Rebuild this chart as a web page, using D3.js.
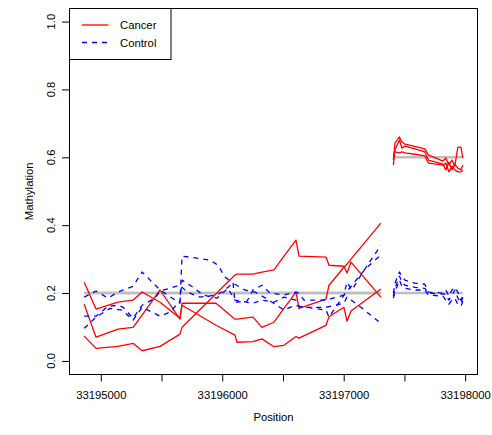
<!DOCTYPE html>
<html>
<head>
<meta charset="utf-8">
<script src="https://cdn.jsdelivr.net/npm/d3@7"></script>
<style>
  html, body { margin: 0; padding: 0; background: #fff; }
  svg { display: block; font-family: "Liberation Sans", Arial, Helvetica, sans-serif; }
</style>
</head>
<body>
<svg id="chart" width="492" height="435"></svg>
<script>
// ---- Region 1: CpG positions and per-sample methylation ----
const leftCancerPos = [33194863, 33194961, 33195142, 33195266, 33195340, 33195488, 33195652, 33195669,
  33195949, 33196105, 33196121, 33196253, 33196327, 33196426, 33196508, 33196607, 33196632, 33196854,
  33196879, 33197002, 33197027, 33197060, 33197306];
const cancerL1 = [.073, .037, .043, .052, .030, .043, .079, .099, .198, .253, .256, .256, .262, .268, .309,
  .356, .309, .306, .282, .279, .259, .291, .188];
const cancerL2 = [.167, .070, .094, .099, .135, .209, .123, .170, .170, .123, .123, .129, .099, .114, .155,
  .203, .155, .182, .223, .276, .285, .300, .406];
const cancerL3 = [.232, .153, .173, .179, .203, .173, .126, .164, .105, .076, .055, .057, .065, .042, .046,
  .072, .067, .105, .130, .158, .117, .147, .212];

const controlL1Pos = [33194863, 33194961, 33195060, 33195142, 33195266, 33195340, 33195488, 33195652,
  33195669, 33195842, 33195899, 33195965, 33196023, 33196089, 33196105, 33196204, 33196253, 33196327,
  33196393, 33196508, 33196607, 33196632, 33196673, 33196854, 33197002, 33197027, 33197068, 33197142, 33197306];
const controlL1 = [.188, .206, .185, .203, .220, .262, .209, .170, .309, .300, .297, .282, .247, .229, .173,
  .176, .209, .223, .200, .194, .203, .200, .179, .179, .194, .232, .209, .253, .341];

const controlL2Pos = [33194863, 33194961, 33195060, 33195142, 33195184, 33195266, 33195340, 33195447,
  33195488, 33195652, 33195710, 33195817, 33195949, 33195998, 33196089, 33196187, 33196270, 33196385,
  33196508, 33196599, 33196656, 33196854, 33197002, 33197027, 33197142, 33197306];
const controlL2 = [.132, .132, .161, .164, .158, .126, .164, .185, .206, .223, .203, .188, .194, .203, .229,
  .209, .203, .179, .150, .164, .158, .158, .170, .188, .158, .111];

const controlL3Pos = [33194863, 33194961, 33195077, 33195175, 33195266, 33195340, 33195488, 33195570,
  33195652, 33195669, 33195760, 33195842, 33195957, 33196047, 33196105, 33196253, 33196327, 33196426,
  33196508, 33196607, 33196632, 33196854, 33196879, 33197002, 33197068, 33197183, 33197306];
const controlL3 = [.096, .129, .155, .150, .120, .158, .132, .144, .176, .238, .217, .194, .185, .214, .179,
  .170, .179, .173, .188, .179, .161, .150, .129, .194, .223, .273, .312];

// ---- Region 2 ----
const rightPos = [33197409, 33197422, 33197459, 33197479, 33197504, 33197586, 33197668, 33197697,
  33197817, 33197841, 33197866, 33197891, 33197915, 33197940, 33197965, 33197981];
const cancerR1 = [.592, .642, .660, .645, .639, .632, .625, .607, .589, .598, .577, .592, .574, .630, .630, .598];
const cancerR2 = [.577, .622, .651, .627, .633, .625, .616, .592, .580, .563, .586, .563, .580, .568, .563, .577];
const cancerR3 = [.607, .616, .613, .616, .613, .609, .604, .583, .577, .583, .557, .574, .563, .557, .557, .563];
const controlR1 = [.200, .229, .262, .250, .238, .229, .226, .203, .200, .209, .191, .209, .217, .203, .179, .191];
const controlR2 = [.191, .214, .250, .232, .223, .217, .214, .200, .197, .197, .179, .194, .209, .185, .170, .188];
const controlR3 = [.185, .203, .238, .220, .214, .209, .209, .194, .191, .179, .167, .179, .185, .167, .161, .176];

// group means per region (grey reference segments)
const regionCancerMean = [0.2, 0.6];
const regionControlMean = [0.2, 0.2];

// axes
const xTicks = [33195000, 33195500, 33196000, 33196500, 33197000, 33197500, 33198000];
const yTicks = [0, 0.2, 0.4, 0.6, 0.8, 1.0];
const yLim = [0, 1];
const legendLabels = ["Cancer", "Control"];

const cancerColor = "#ff0000", controlColor = "#0000ff", meanColor = "#bebebe";

// ---- build series ----
const zip = (p, v) => p.map((d, i) => [d, v[i]]);
const series = [
  { g: "cancer", pts: zip(leftCancerPos, cancerL1) },
  { g: "cancer", pts: zip(leftCancerPos, cancerL2) },
  { g: "cancer", pts: zip(leftCancerPos, cancerL3) },
  { g: "cancer", pts: zip(rightPos, cancerR1) },
  { g: "cancer", pts: zip(rightPos, cancerR2) },
  { g: "cancer", pts: zip(rightPos, cancerR3) },
  { g: "control", pts: zip(controlL1Pos, controlL1) },
  { g: "control", pts: zip(controlL2Pos, controlL2) },
  { g: "control", pts: zip(controlL3Pos, controlL3) },
  { g: "control", pts: zip(rightPos, controlR1) },
  { g: "control", pts: zip(rightPos, controlR2) },
  { g: "control", pts: zip(rightPos, controlR3) }
];
const regions = [
  [leftCancerPos[0], leftCancerPos[leftCancerPos.length - 1]],
  [rightPos[0], rightPos[rightPos.length - 1]]
];

// ---- scales (R-style 4% padding) ----
const plot = { left: 69, right: 478, top: 8, bottom: 374.5 };
const allX = series.flatMap(s => s.pts.map(p => p[0]));
const xMin = d3.min(allX), xMax = d3.max(allX), xr = xMax - xMin;
const x = d3.scaleLinear().domain([xMin - 0.04 * xr, xMax + 0.04 * xr]).range([plot.left, plot.right]);
const yr = yLim[1] - yLim[0];
const y = d3.scaleLinear().domain([yLim[0] - 0.04 * yr, yLim[1] + 0.04 * yr]).range([plot.bottom, plot.top]);

const svg = d3.select("#chart");
const fs = "11.3px";

// grey mean segments
const meanSegs = [];
regions.forEach((r, i) => {
  meanSegs.push([r, regionCancerMean[i]]);
  meanSegs.push([r, regionControlMean[i]]);
});
svg.append("g").selectAll("line").data(meanSegs).join("line")
  .attr("x1", d => x(d[0][0])).attr("x2", d => x(d[0][1]))
  .attr("y1", d => y(d[1])).attr("y2", d => y(d[1]))
  .attr("stroke", meanColor).attr("stroke-width", 2.6);

// sample lines
const line = d3.line().x(d => x(d[0])).y(d => y(d[1]));
svg.append("g").selectAll("path").data(series).join("path")
  .attr("d", d => line(d.pts))
  .attr("fill", "none")
  .attr("stroke", d => d.g === "cancer" ? cancerColor : controlColor)
  .attr("stroke-width", 1.3)
  .attr("stroke-linejoin", "round")
  .attr("stroke-dasharray", d => d.g === "control" ? "5,5" : null);

// plot box
svg.append("rect")
  .attr("x", plot.left + 0.5).attr("y", plot.top + 0.5)
  .attr("width", plot.right - plot.left - 1).attr("height", plot.bottom - plot.top - 0.5)
  .attr("fill", "none").attr("stroke", "#000").attr("stroke-width", 1);

// x axis
const xAxis = d3.axisBottom(x).tickValues(xTicks).tickSize(7).tickPadding(9)
  .tickFormat(d => d % 1000 === 0 ? d3.format("d")(d) : "");
const gx = svg.append("g").attr("transform", `translate(0,${plot.bottom})`).call(xAxis);
gx.select(".domain").remove();
gx.selectAll("text").attr("font-size", fs).attr("font-family", "Liberation Sans, Arial, sans-serif").attr("fill", "#000");
gx.selectAll("line").attr("stroke", "#000");

// y axis (labels parallel to axis)
const yAxis = d3.axisLeft(y).tickValues(yTicks).tickSize(7).tickFormat("");
const gy = svg.append("g").attr("transform", `translate(${plot.left},0)`).call(yAxis);
gy.select(".domain").remove();
gy.selectAll("line").attr("stroke", "#000");
svg.append("g").selectAll("text").data(yTicks).join("text")
  .attr("transform", d => `translate(54.5,${y(d)}) rotate(-90)`)
  .attr("text-anchor", "middle")
  .attr("font-size", fs)
  .text(d => d3.format(".1f")(d));

// axis titles
svg.append("text").attr("x", (plot.left + plot.right) / 2).attr("y", 421)
  .attr("text-anchor", "middle").attr("font-size", fs).text("Position");
svg.append("text").attr("transform", `translate(32.5,${(plot.top + plot.bottom) / 2}) rotate(-90)`)
  .attr("text-anchor", "middle").attr("font-size", fs).text("Mathylation");

// legend
const lg = svg.append("g");
lg.append("rect").attr("x", plot.left + 0.5).attr("y", plot.top + 0.5).attr("width", 101.5).attr("height", 51)
  .attr("fill", "#fff").attr("stroke", "#000").attr("stroke-width", 1);
legendLabels.forEach((lab, i) => {
  const ly = 25 + i * 17.5;
  lg.append("line").attr("x1", 82).attr("x2", 108.5).attr("y1", ly).attr("y2", ly)
    .attr("stroke", i === 0 ? cancerColor : controlColor).attr("stroke-width", 1.3)
    .attr("stroke-dasharray", i === 0 ? null : "5,5");
  lg.append("text").attr("x", 120).attr("y", ly + 4.2).attr("font-size", fs).text(lab);
});
</script>
</body>
</html>
